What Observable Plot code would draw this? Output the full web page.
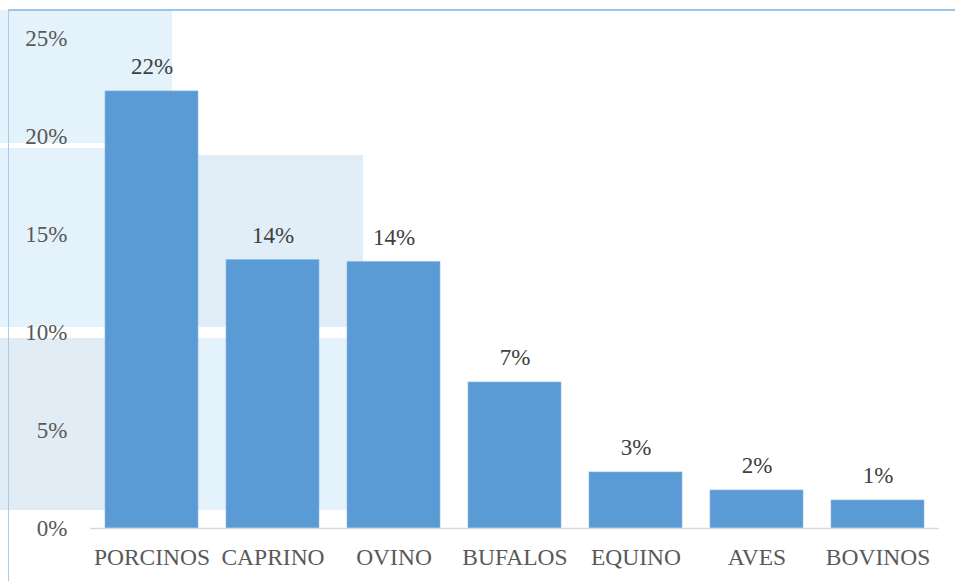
<!DOCTYPE html>
<html>
<head>
<meta charset="utf-8">
<script src="https://cdn.jsdelivr.net/npm/d3@7"></script>
<script src="https://cdn.jsdelivr.net/npm/@observablehq/plot@0.6"></script>
<style>
  html, body { margin: 0; padding: 0; background: #ffffff; }
  #wrap { position: relative; width: 955px; height: 581px; overflow: hidden; background: #ffffff; }
  .bg { position: absolute; }
  #chart { position: absolute; left: 0; top: 0; }
  #chart svg { background: transparent !important; }
  #chart svg text { font-family: "Liberation Serif", "Times New Roman", serif !important; }
</style>
</head>
<body>
<div id="wrap">
  <div class="bg" style="left:0;top:10px;width:172px;height:133px;background:#E4F3FB"></div>
  <div class="bg" style="left:0;top:148px;width:110px;height:179px;background:#E4F3FB"></div>
  <div class="bg" style="left:110px;top:155px;width:253px;height:172px;background:#E1EEF8"></div>
  <div class="bg" style="left:0;top:338px;width:110px;height:172px;background:#E1ECF5"></div>
  <div class="bg" style="left:110px;top:338px;width:253px;height:172px;background:#E4F3FB"></div>
  <div class="bg" style="left:8px;top:9px;width:947px;height:2px;background:#9DC3E6"></div>
  <div class="bg" style="left:8px;top:9px;width:1px;height:572px;background:#A9CCEB"></div>
  <div id="chart"></div>
</div>
<script>
const categories = ["PORCINOS", "CAPRINO", "OVINO", "BUFALOS", "EQUINO", "AVES", "BOVINOS"];
const values = [22.3, 13.7, 13.6, 7.45, 2.86, 1.94, 1.43];
const yTicks = [0, 5, 10, 15, 20, 25];

const data = categories.map((c, i) => ({cat: c, v: values[i]}));
const fmt = d => Math.round(d) + "%";

const chart = Plot.plot({
  width: 955,
  height: 581,
  marginLeft: 90,
  marginRight: 16,
  marginTop: 38,
  marginBottom: 53,
  style: {
    fontFamily: "'Liberation Serif', 'Times New Roman', serif",
    fontSize: "23px",
    background: "transparent",
    overflow: "visible"
  },
  x: {domain: categories, paddingInner: 0.23, paddingOuter: 0.12, label: null},
  y: {domain: [0, 25], label: null},
  marks: [
    Plot.barY(data, {x: "cat", y: "v", fill: "#5B9BD5", stroke: "#8DB9E4", strokeWidth: 0.6}),
    Plot.ruleY([0], {stroke: "#D9D9D9", strokeWidth: 1.5}),
    Plot.text(data, {x: "cat", y: "v", text: d => fmt(d.v), lineAnchor: "bottom", dy: -17, fill: "#404040", fontSize: 23}),
    Plot.axisY({ticks: yTicks, tickSize: 0, tickPadding: 23, tickFormat: d => d + "%", label: null, fill: "#595959", fontSize: 23}),
    Plot.axisX({tickSize: 0, tickPadding: 20, label: null, fill: "#595959", fontSize: 23.5})
  ]
});
document.getElementById("chart").appendChild(chart);
</script>
</body>
</html>
